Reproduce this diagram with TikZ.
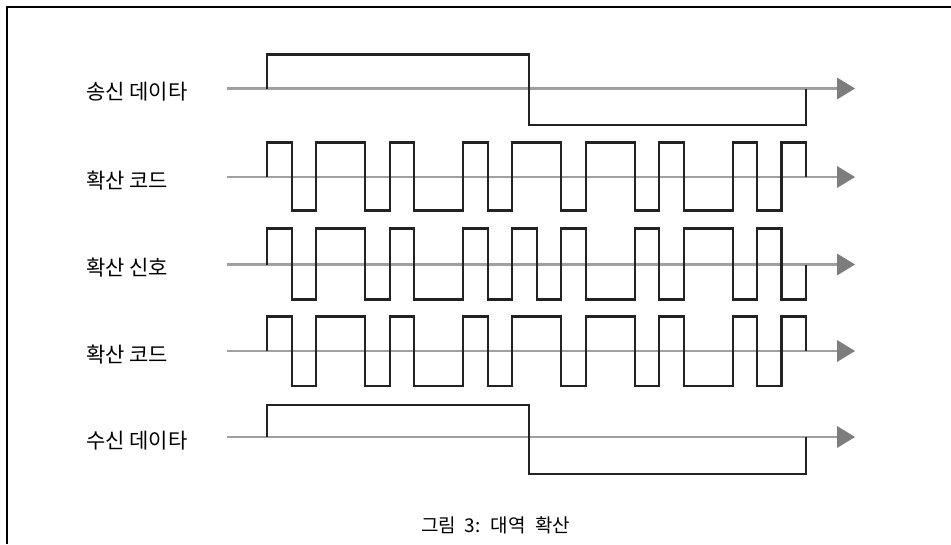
\documentclass[tikz,border=0pt]{standalone}
\usepackage{fontspec}
\newfontfamily\kr{Noto Sans CJK KR}
\definecolor{axisgray}{RGB}{160,160,160}
\definecolor{tipgray}{RGB}{125,125,125}
\definecolor{wavecol}{RGB}{35,35,35}
\begin{document}
\begin{tikzpicture}[x=1pt,y=-1pt,
  frameline/.style={line width=2pt,black},
  axisline/.style={line width=2.2pt,axisgray},
  wave/.style={line width=2.2pt,wavecol,line join=miter},
  rowlabel/.style={anchor=base west,inner sep=0pt,font=\kr\fontsize{21}{21}\selectfont},
  captext/.style={anchor=base west,inner sep=0pt,font=\kr\fontsize{19}{19}\selectfont}]
\useasboundingbox (0,0) rectangle (951,544);
\fill[white] (0,0) rectangle (951,544);
% frame
\draw[frameline] (7,544) -- (7,6.5) -- (951,6.5);
% axes
\foreach \b/\n in {88.5/a,177/b,264.5/c,351/d,437/e}{
  \coordinate (s\n) at (227,\b);
  \coordinate (t\n) at (838,\b);
  \draw[axisline] (s\n) -- (t\n);
  \fill[tipgray] (837,\b-11) -- (855,\b) -- (837,\b+11) -- cycle;
}
% labels
\node[rowlabel] (la) at (86,99.5) {송신 데이타};
\node[rowlabel] (lb) at (86,188) {확산 코드};
\node[rowlabel] (lc) at (86,275.5) {확산 신호};
\node[rowlabel] (ld) at (86,362) {확산 코드};
\node[rowlabel] (le) at (86,448) {수신 데이타};
% waveforms
\begin{scope}[x=24.49pt,xshift=267.3pt]
% transmit data
\draw[wave] (0,88.5) -- (0,54.5) -- (10.686,54.5) -- (10.686,125) -- (22,125) -- (22,88.5);
% spreading code
\foreach \b/\H/\L in {177/142.5/210.5, 351/316.5/386}{
\draw[wave] (0,\b)--(0,\H)--(1,\H)--(1,\L)--(2,\L)--(2,\H)--(4,\H)--(4,\L)--(5,\L)--(5,\H)--(6,\H)--(6,\L)--(8,\L)--(8,\H)--(9,\H)--(9,\L)--(10,\L)--(10,\H)--(12,\H)--(12,\L)--(13,\L)--(13,\H)--(15,\H)--(15,\L)--(16,\L)--(16,\H)--(17,\H)--(17,\L)--(19,\L)--(19,\H)--(20,\H)--(20,\L)--(21,\L)--(21,\H)--(22,\H)--(22,\b);
}
% spread signal
\draw[wave] (0,264.5)--(0,228.5)--(1,228.5)--(1,299.5)--(2,299.5)--(2,228.5)--(4,228.5)--(4,299.5)--(5,299.5)--(5,228.5)--(6,228.5)--(6,299.5)--(8,299.5)--(8,228.5)--(9,228.5)--(9,299.5)--(10,299.5)--(10,228.5)--(11,228.5)--(11,299.5)--(12,299.5)--(12,228.5)--(13,228.5)--(13,299.5)--(15,299.5)--(15,228.5)--(16,228.5)--(16,299.5)--(17,299.5)--(17,228.5)--(19,228.5)--(19,299.5)--(20,299.5)--(20,228.5)--(21,228.5)--(21,299.5)--(22,299.5)--(22,264.5);
% received data
\draw[wave] (0,437) -- (0,405) -- (10.686,405) -- (10.686,474) -- (22,474) -- (22,437);
\end{scope}
% caption
\node[captext] (cap) at (421,532) {그림\hspace{0.45em}3:\hspace{0.55em}대역\hspace{0.5em}확산};
\end{tikzpicture}
\end{document}
